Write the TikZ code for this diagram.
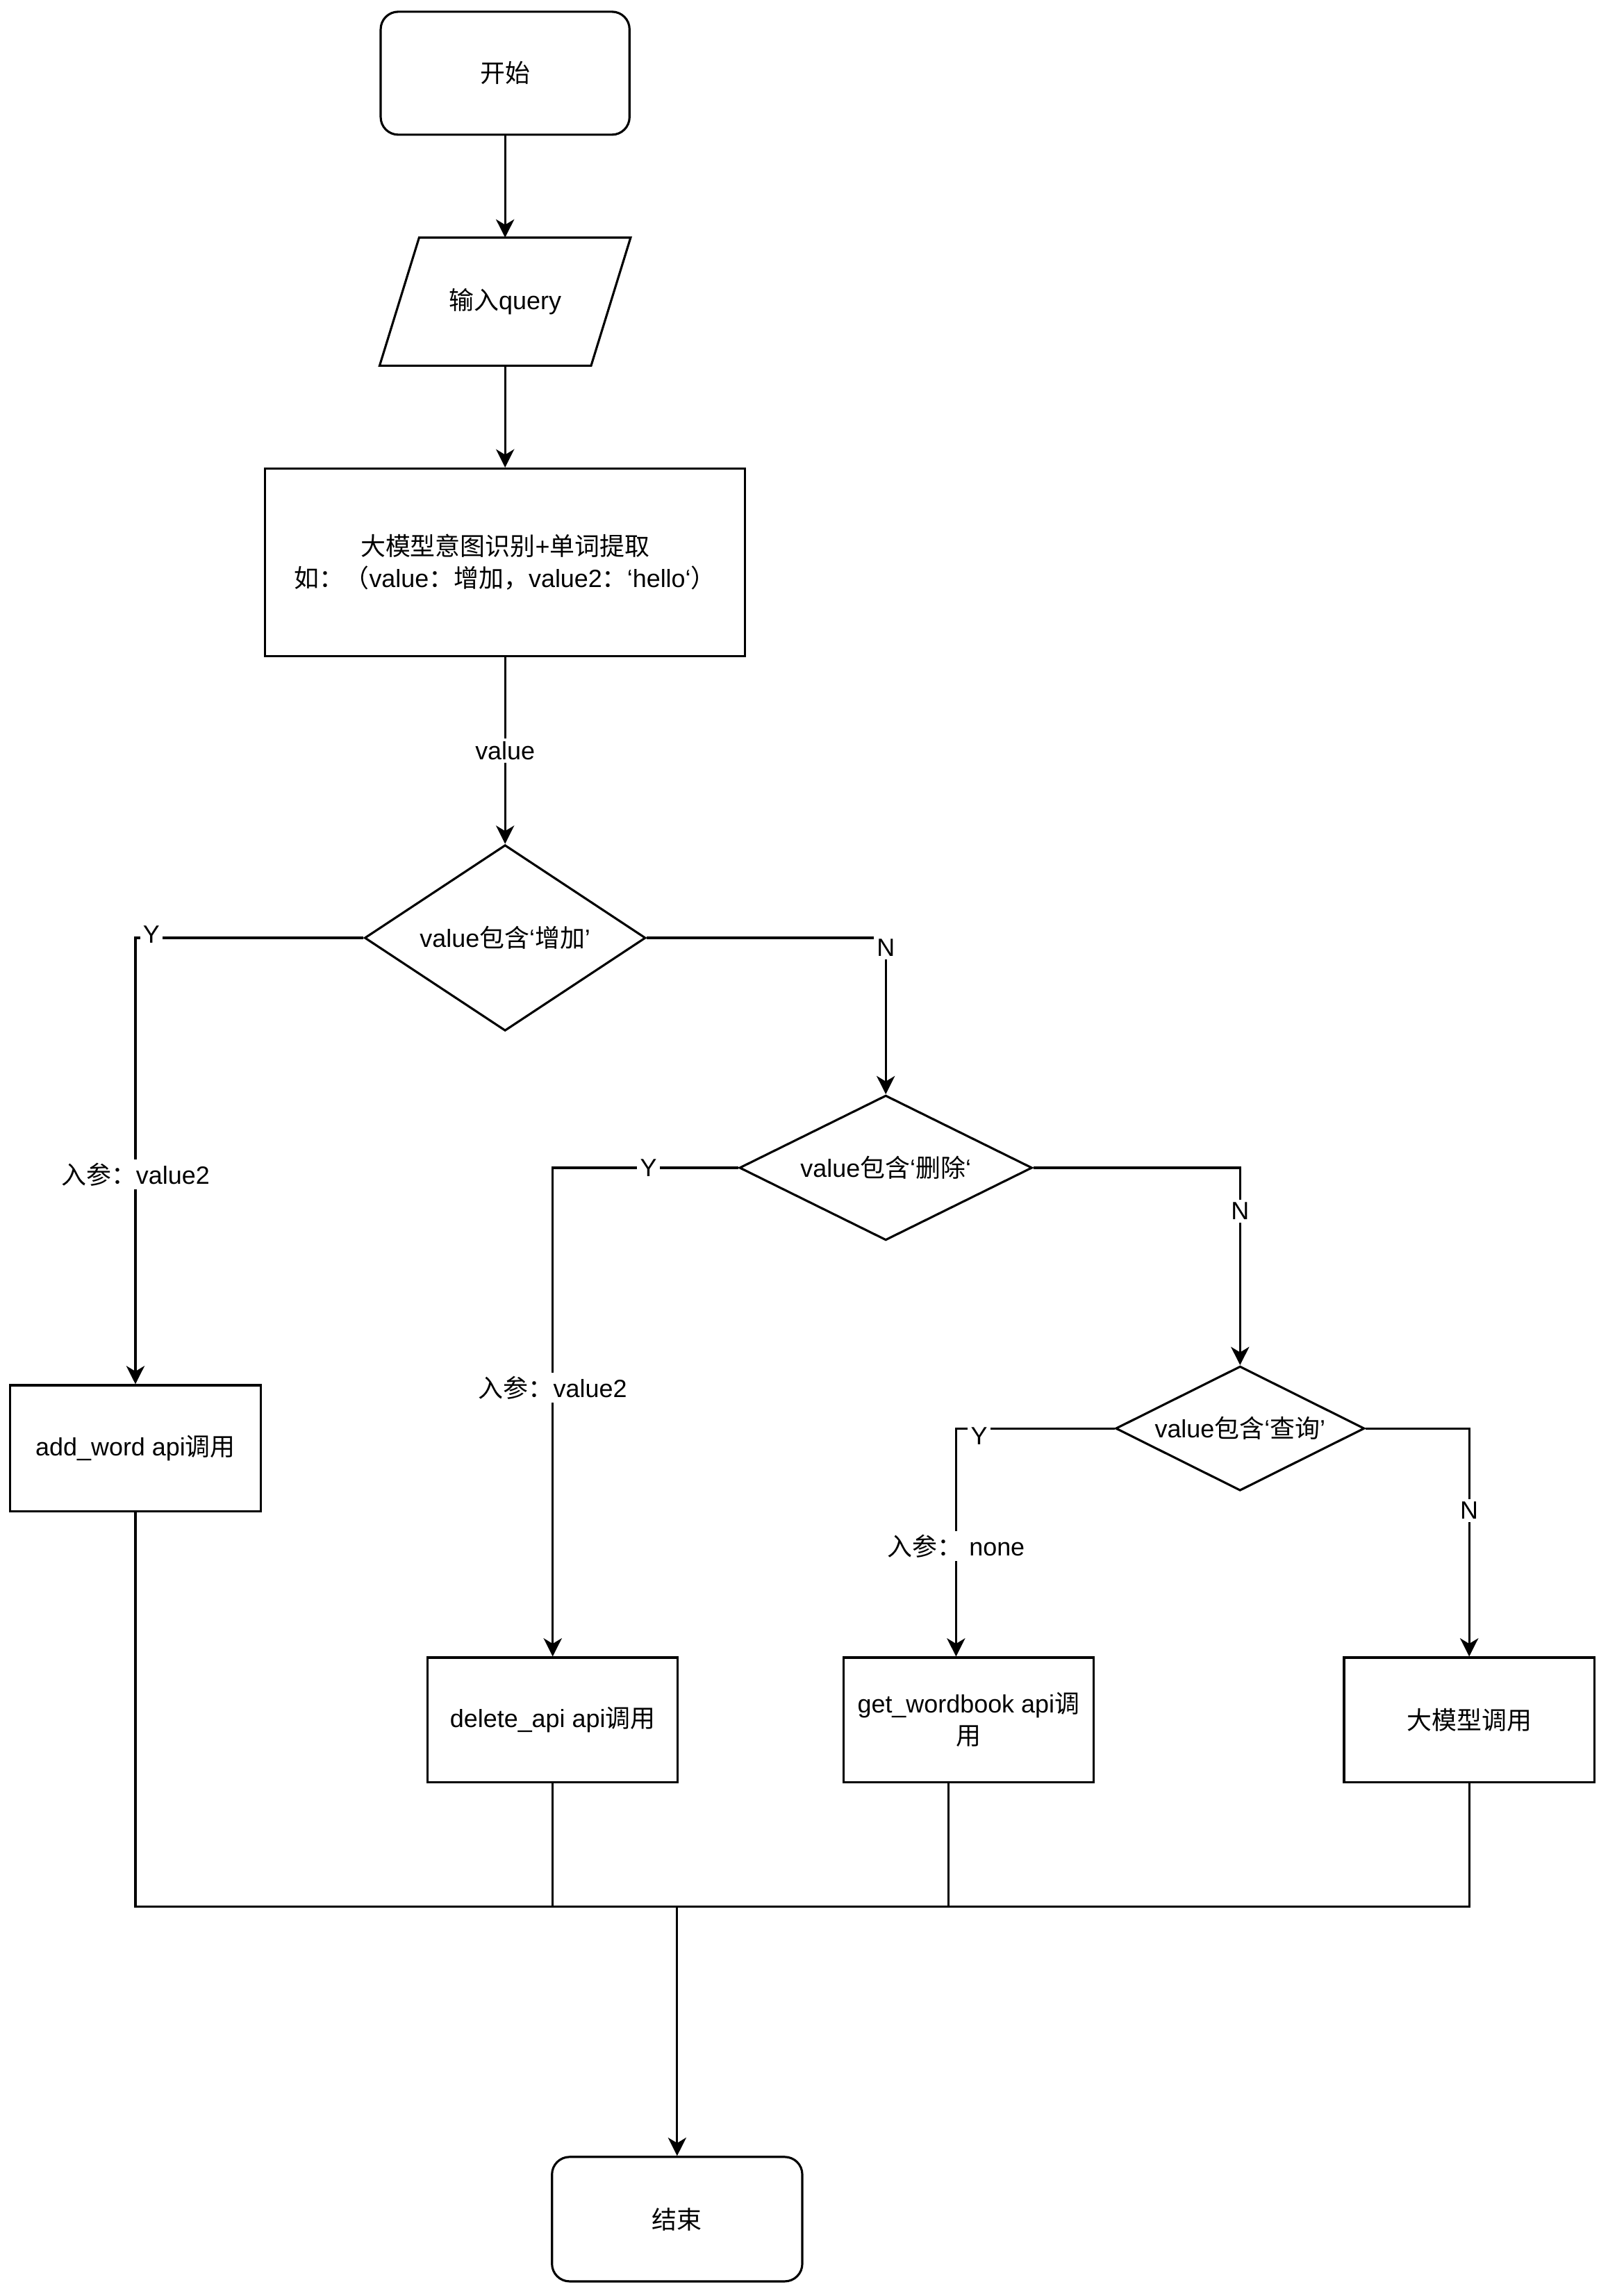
\documentclass[tikz,border=0pt]{standalone}
\usepackage{fontspec}
\setmainfont{Liberation Sans}
\newfontfamily\cjk{Noto Sans CJK SC}
\newcommand\zh[1]{{\cjk #1}}
\usetikzlibrary{shapes.geometric,arrows.meta,calc}
\begin{document}
\begin{tikzpicture}[x=0.02cm,y=-0.02cm,
  font=\fontsize{9.7}{12.4}\selectfont, line width=0.85pt,
  procbox/.style={draw, rectangle, inner sep=0pt, align=center},
  termbox/.style={procbox, rounded corners=0.24cm},
  decbox/.style={draw, diamond, shape aspect=2, inner sep=0pt, align=center},
  lbl/.style={fill=white, inner sep=1.2pt},
  arr/.style={-{Stealth[length=0.25cm,width=0.25cm,inset=0.075cm]}}]
\useasboundingbox[fill=white] (0,0) rectangle (1098,1568);

\node[termbox, minimum width=3.4cm, minimum height=1.68cm] (start) at (345,50) {\zh{开始}};
\node[inner sep=0pt, minimum width=2.86cm, minimum height=1.72cm] (input) at (345,206) {\zh{输入}query};
\draw ($(input.north west)+(13.5,0)$) -- ($(input.north east)+(13.5,0)$) -- ($(input.south east)+(-13.5,0)$) -- ($(input.south west)+(-13.5,0)$) -- cycle;
\node[procbox, minimum width=6.56cm, minimum height=2.56cm] (proc) at (345,384)
  {\zh{大模型意图识别}+\zh{单词提取}\\\zh{如：（}value\zh{：增加，}value2\zh{：}‘hello‘\zh{）}};
\node[decbox, minimum width=3.84cm, minimum height=2.54cm] (d1) at (345,640.5) {value\zh{包含}‘\zh{增加}’};
\node[decbox, minimum width=4.0cm, minimum height=1.98cm] (d2) at (605,797.5) {value\zh{包含}‘\zh{删除}‘};
\node[decbox, minimum width=3.4cm, minimum height=1.7cm] (d3) at (847,975.5) {value\zh{包含}‘\zh{查询}’};
\node[procbox, minimum width=3.42cm, minimum height=1.72cm] (add) at (92.5,989) {add\_word api\zh{调用}};
\node[procbox, minimum width=3.42cm, minimum height=1.7cm] (del) at (377.5,1174.5) {delete\_api api\zh{调用}};
\node[procbox, minimum width=3.42cm, minimum height=1.7cm] (getw) at (661.5,1174.5) {get\_wordbook api\zh{调}\\\zh{用}};
\node[procbox, minimum width=3.42cm, minimum height=1.7cm] (llm) at (1003.5,1174.5) {\zh{大模型调用}};
\node[termbox, minimum width=3.42cm, minimum height=1.7cm] (end) at (462.5,1515.5) {\zh{结束}};
\coordinate (bus) at (462.5,1302);
\coordinate (gin) at ($(getw.north)+(-8.5,0)$);
\coordinate (gout) at ($(getw.south)+(-13.5,0)$);

\draw[arr] (start.south) -- (input.north);
\draw[arr] (input.south) -- (proc.north);
\draw[arr] (proc.south) -- node[lbl]{value} (d1.north);
\draw[arr] (d1.west) -| node[lbl,pos=0.465,yshift=0.05cm]{Y} node[lbl,pos=0.765]{\zh{入参：}value2} (add.north);
\draw[arr] (d1.east) -| node[lbl,pos=0.532]{N} (d2.north);
\draw[arr] (d2.west) -| node[lbl,pos=0.242]{Y} node[lbl,pos=0.725]{\zh{入参：}value2} (del.north);
\draw[arr] (d2.east) -| node[lbl,pos=0.61]{N} (d3.north);
\draw[arr] (d3.west) -| node[lbl,pos=0.427,yshift=-0.1cm]{Y} node[lbl,pos=0.758]{\zh{入参：} none} (gin);
\draw[arr] (d3.east) -| node[lbl,pos=0.68]{N} (llm.north);

\draw (add.south) -- (add.south |- bus) -- (llm.south |- bus) -- (llm.south);
\draw (del.south) -- (del.south |- bus);
\draw (gout) -- (gout |- bus);
\draw[arr] (bus) -- (end.north);
\end{tikzpicture}
\end{document}
